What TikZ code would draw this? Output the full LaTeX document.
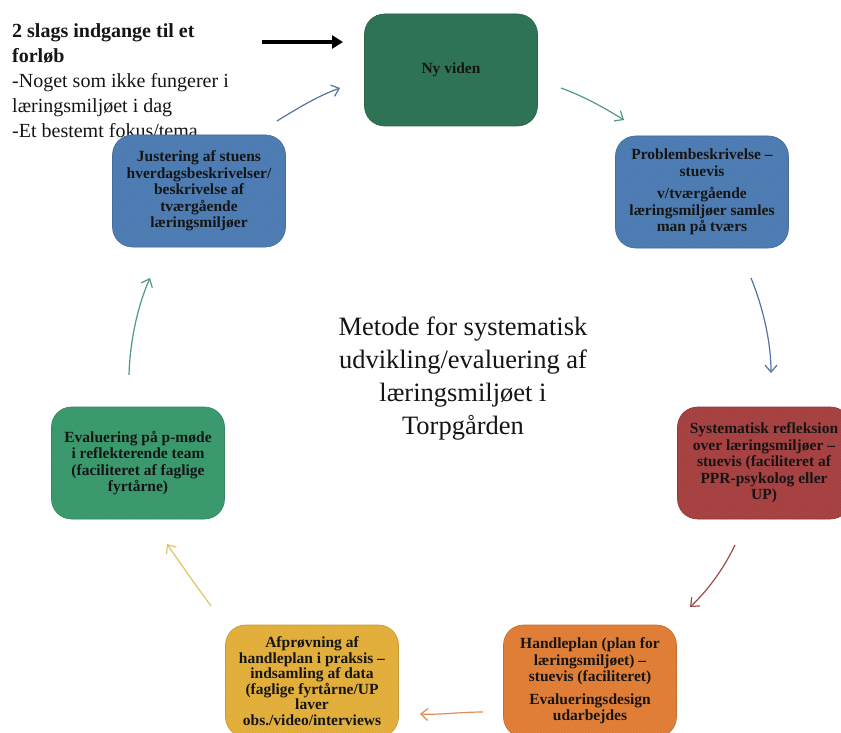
\documentclass[tikz,border=0pt]{standalone}
\usepackage{fontspec}
\setmainfont{Liberation Serif}
\usetikzlibrary{arrows.meta,patterns}
\definecolor{cNy}{HTML}{2F7356}
\definecolor{cBlue}{HTML}{5080B8}
\definecolor{cRed}{HTML}{AC4444}
\definecolor{cGreen}{HTML}{3D9E70}
\definecolor{cOrange}{HTML}{E6823A}
\definecolor{cYellow}{HTML}{E8B43E}
\definecolor{aBlue}{HTML}{5474A0}
\definecolor{aGreen}{HTML}{4C9C7C}
\definecolor{aRed}{HTML}{A24A4A}
\definecolor{aOrange}{HTML}{E28C55}
\definecolor{aYellow}{HTML}{E2C468}
\definecolor{txt}{HTML}{151515}
\tikzset{
  card/.style={rounded corners=20pt, minimum width=173pt, minimum height=112pt,
    align=center, inner sep=4pt, text=txt,
    font=\fontsize{15.5}{16.5}\selectfont\bfseries, line width=0.6pt,
    preaction={fill=#1}, pattern=north east lines, pattern color=#1!92!black,
    draw=#1!85!black},
  flow/.style={line width=1.2pt, -{Straight Barb[length=7pt,width=12pt,line width=1.2pt]}},
}
\begin{document}
\begin{tikzpicture}[x=1pt,y=-1pt]
\clip (0,0) rectangle (841,733);
\fill[white] (0,0) rectangle (841,733);

% texts (behind boxes)
\node[anchor=north west, align=left, inner sep=0pt, text=txt,
  font=\fontsize{20}{25}\selectfont] (intro) at (12,23)
  {\textbf{2 slags indgange til et}\\\textbf{forløb}\\-Noget som ikke fungerer i\\læringsmiljøet i dag\\-Et bestemt fokus/tema};
\node[align=center, text=txt, font=\fontsize{26.5}{33}\selectfont] (title) at (463,379)
  {Metode for systematisk\\udvikling/evaluering af\\læringsmiljøet i\\Torpgården};

% boxes
\node[rounded corners=20pt, minimum width=173pt, minimum height=112pt, fill=cNy,
  draw=cNy!85!black, line width=0.6pt, text=txt,
  font=\fontsize{15.5}{16.5}\selectfont\bfseries] (ny) at (451,70) {Ny viden};
\node[card=cBlue] (prob) at (702,192)
  {Problembeskrivelse –\\stuevis\\[6pt]v/tværgående\\læringsmiljøer samles\\man på tværs};
\node[card=cBlue] (just) at (199,191)
  {Justering af stuens\\hverdagsbeskrivelser/\\beskrivelse af\\tværgående\\læringsmiljøer};
\node[card=cRed] (sys) at (764,463)
  {Systematisk refleksion\\over læringsmiljøer –\\stuevis (faciliteret af\\PPR-psykolog eller\\UP)};
\node[card=cGreen] (eval) at (138,463)
  {Evaluering på p-møde\\i reflekterende team\\(faciliteret af faglige\\fyrtårne)};
\node[card=cOrange] (hand) at (590,681)
  {Handleplan (plan for\\læringsmiljøet) –\\stuevis (faciliteret)\\[6pt]Evalueringsdesign\\udarbejdes};
\node[card=cYellow, font=\fontsize{15.5}{15.5}\selectfont\bfseries] (afp) at (312,681)
  {Afprøvning af\\handleplan i praksis –\\indsamling af data\\(faglige fyrtårne/UP\\laver\\obs./video/interviews};

% arrow end points
\coordinate (k1) at (262,42); \coordinate (k2) at (343,42);
\coordinate (a1) at (277,121); \coordinate (a2) at (340,88);
\coordinate (b1) at (561,88); \coordinate (b2) at (624,120);
\coordinate (c1) at (751,278); \coordinate (c2) at (771,373);
\coordinate (d1) at (735,545); \coordinate (d2) at (690,607);
\coordinate (e1) at (483,712); \coordinate (e2) at (420,714);
\coordinate (f1) at (211,606); \coordinate (f2) at (167,544);
\coordinate (g1) at (129,375); \coordinate (g2) at (150,278);

\draw[line width=3.2pt, -{Triangle[length=11pt,width=13pt]}] (k1) -- (k2);
\draw[flow, aBlue] (a1) .. controls (298,108) and (318,96) .. (a2);
\draw[flow, aGreen] (b1) .. controls (583,96) and (603,107) .. (b2);
\draw[flow, aBlue] (c1) .. controls (762,305) and (771,340) .. (c2);
\draw[flow, aRed] (d1) .. controls (722,572) and (706,592) .. (d2);
\draw[flow, aOrange] (e1) .. controls (460,712) and (440,715) .. (e2);
\draw[flow, aYellow] (f1) .. controls (195,584) and (180,563) .. (f2);
\draw[flow, aGreen] (g1) .. controls (130,340) and (138,305) .. (g2);
\end{tikzpicture}
\end{document}
